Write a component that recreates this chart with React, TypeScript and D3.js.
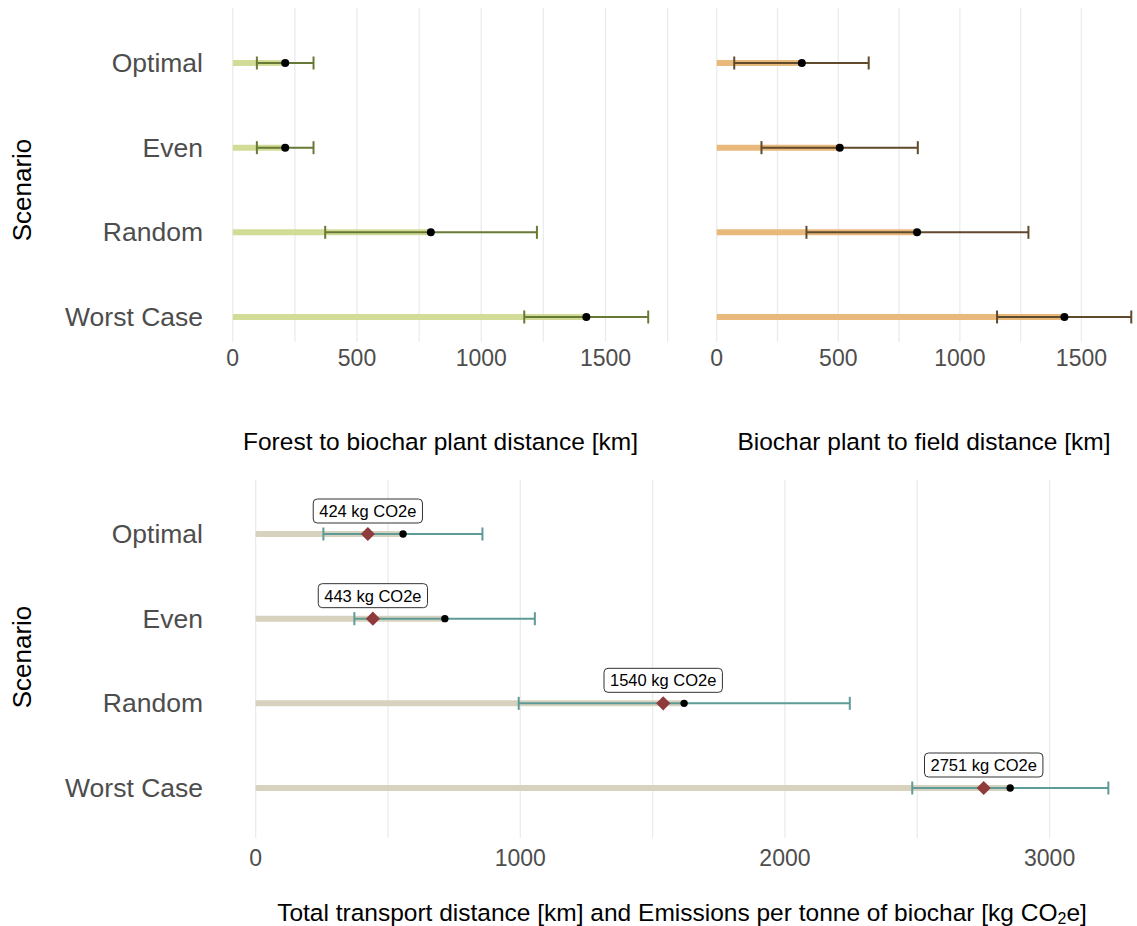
import React, { useEffect, useRef } from "react";
import * as d3 from "d3";

const scenarios = ["Optimal", "Even", "Random", "Worst Case"];

// forest -> biochar plant distance [km]
const forestLower = [97, 97, 372, 1173];
const forestMean = [211, 211, 797, 1423];
const forestUpper = [325, 325, 1224, 1672];

// biochar plant -> field distance [km]
const plantLower = [72, 184, 369, 1153];
const plantMean = [350, 506, 824, 1430];
const plantUpper = [625, 827, 1282, 1705];

// total distance [km] and emissions [kg CO2e]
const totalLower = [256, 373, 994, 2481];
const totalMean = [557, 715, 1619, 2851];
const totalUpper = [857, 1055, 2245, 3222];
const emissions = [424, 443, 1540, 2751];

const topTicks = [0, 500, 1000, 1500];
const bottomTicks = [0, 1000, 2000, 3000];

const font = "'Liberation Sans', Arial, sans-serif";

interface IPanel {
  left: number;
  right: number;
  top: number;
  bottom: number;
  yTop: number;
  yBottom: number;
  lower: number[];
  mean: number[];
  upper: number[];
  light: string;
  dark: string;
  ticks: number[];
  minorStep: number;
  tickY: number;
  title: string;
  titleY: number;
  showY: boolean;
  dotR: number;
}

export default function App() {
  const ref = useRef<SVGSVGElement>(null);

  useEffect(() => {
    const svg = d3.select(ref.current);
    svg.selectAll("*").remove();

    const drawPanel = (p: IPanel) => {
      const max = d3.max(p.upper) as number;
      const x = d3
        .scaleLinear()
        .domain([-0.05 * max, 1.05 * max])
        .range([p.left, p.right]);
      const y = d3.scalePoint<string>().domain(scenarios).range([p.yTop, p.yBottom]);
      const g = svg.append("g");

      // vertical grid lines (major + minor)
      const grid = d3.range(0, 1.05 * max + 1, p.minorStep);
      g.selectAll("line.grid")
        .data(grid)
        .join("line")
        .attr("class", "grid")
        .attr("x1", (d) => x(d))
        .attr("x2", (d) => x(d))
        .attr("y1", p.top)
        .attr("y2", p.bottom)
        .attr("stroke", "#ebebeb")
        .attr("stroke-width", 1.3);

      // tick labels
      g.selectAll("text.tick")
        .data(p.ticks)
        .join("text")
        .attr("class", "tick")
        .attr("x", (d) => x(d))
        .attr("y", p.tickY)
        .attr("text-anchor", "middle")
        .attr("dominant-baseline", "central")
        .attr("font-family", font)
        .attr("font-size", 23)
        .attr("fill", "#4d4d4d")
        .text((d) => d);

      if (p.title) {
        g.append("text")
          .attr("x", (p.left + p.right) / 2)
          .attr("y", p.titleY)
          .attr("text-anchor", "middle")
          .attr("dominant-baseline", "central")
          .attr("font-family", font)
          .attr("font-size", 24.5)
          .attr("fill", "#000")
          .text(p.title);
      }

      if (p.showY) {
        g.selectAll("text.ylab")
          .data(scenarios)
          .join("text")
          .attr("class", "ylab")
          .attr("x", 203)
          .attr("y", (d) => y(d) as number)
          .attr("text-anchor", "end")
          .attr("dominant-baseline", "central")
          .attr("font-family", font)
          .attr("font-size", 26.5)
          .attr("fill", "#4d4d4d")
          .text((d) => d);
      }

      const rows = scenarios.map((s, i) => ({
        name: s,
        lower: p.lower[i],
        mean: p.mean[i],
        upper: p.upper[i],
      }));

      // light bar from zero to mean
      g.selectAll("line.base")
        .data(rows)
        .join("line")
        .attr("class", "base")
        .attr("x1", x(0))
        .attr("x2", (d) => x(d.mean))
        .attr("y1", (d) => y(d.name) as number)
        .attr("y2", (d) => y(d.name) as number)
        .attr("stroke", p.light)
        .attr("stroke-width", 6);

      // error bars
      g.selectAll("line.err")
        .data(rows)
        .join("line")
        .attr("class", "err")
        .attr("x1", (d) => x(d.lower))
        .attr("x2", (d) => x(d.upper))
        .attr("y1", (d) => y(d.name) as number)
        .attr("y2", (d) => y(d.name) as number)
        .attr("stroke", p.dark)
        .attr("stroke-width", 2);

      const caps = rows.flatMap((d) => [
        { name: d.name, v: d.lower },
        { name: d.name, v: d.upper },
      ]);
      g.selectAll("line.cap")
        .data(caps)
        .join("line")
        .attr("class", "cap")
        .attr("x1", (d) => x(d.v))
        .attr("x2", (d) => x(d.v))
        .attr("y1", (d) => (y(d.name) as number) - 6.5)
        .attr("y2", (d) => (y(d.name) as number) + 6.5)
        .attr("stroke", p.dark)
        .attr("stroke-width", 2);

      g.selectAll("circle.mean")
        .data(rows)
        .join("circle")
        .attr("class", "mean")
        .attr("cx", (d) => x(d.mean))
        .attr("cy", (d) => y(d.name) as number)
        .attr("r", p.dotR)
        .attr("fill", "#000");

      return { g, x, y, rows };
    };

    drawPanel({
      left: 212,
      right: 669,
      top: 8,
      bottom: 342,
      yTop: 63,
      yBottom: 317,
      lower: forestLower,
      mean: forestMean,
      upper: forestUpper,
      light: "#d2dc96",
      dark: "#667a36",
      ticks: topTicks,
      minorStep: 250,
      tickY: 358,
      title: "Forest to biochar plant distance [km]",
      titleY: 441,
      showY: true,
      dotR: 4,
    });

    drawPanel({
      left: 696,
      right: 1152,
      top: 8,
      bottom: 342,
      yTop: 63,
      yBottom: 317,
      lower: plantLower,
      mean: plantMean,
      upper: plantUpper,
      light: "#e9b97b",
      dark: "#5f4a2e",
      ticks: topTicks,
      minorStep: 250,
      tickY: 358,
      title: "Biochar plant to field distance [km]",
      titleY: 441,
      showY: false,
      dotR: 4,
    });

    const bt = drawPanel({
      left: 213,
      right: 1151,
      top: 480,
      bottom: 838,
      yTop: 534,
      yBottom: 788,
      lower: totalLower,
      mean: totalMean,
      upper: totalUpper,
      light: "#d6d2bd",
      dark: "#5e9a97",
      ticks: bottomTicks,
      minorStep: 500,
      tickY: 858,
      title: "",
      titleY: 912,
      showY: true,
      dotR: 3.7,
    });

    const em = scenarios.map((s, i) => ({ name: s, value: emissions[i] }));
    bt.g
      .selectAll("path.diamond")
      .data(em)
      .join("path")
      .attr("class", "diamond")
      .attr("d", d3.symbol(d3.symbolSquare, 100)())
      .attr(
        "transform",
        (d) => `translate(${bt.x(d.value)},${bt.y(d.name)}) rotate(45)`,
      )
      .attr("fill", "#8f3b3b");

    // emission labels
    const labels = bt.g
      .selectAll("g.lab")
      .data(em)
      .join("g")
      .attr("class", "lab")
      .attr(
        "transform",
        (d) => `translate(${bt.x(d.value)},${(bt.y(d.name) as number) - 23})`,
      );
    labels
      .append("text")
      .attr("text-anchor", "middle")
      .attr("dominant-baseline", "central")
      .attr("font-family", font)
      .attr("font-size", 16.5)
      .attr("fill", "#000")
      .text((d) => `${d.value} kg CO2e`);
    labels.each(function () {
      const grp = d3.select(this);
      const t = grp.select("text").node() as SVGTextElement;
      const w = t.getComputedTextLength();
      grp
        .insert("rect", "text")
        .attr("x", -w / 2 - 6)
        .attr("y", -12)
        .attr("width", w + 12)
        .attr("height", 24)
        .attr("rx", 4)
        .attr("fill", "#fff")
        .attr("stroke", "#333")
        .attr("stroke-width", 1);
    });

    // bottom axis title with subscript
    const bTitle = svg
      .append("text")
      .attr("x", (213 + 1151) / 2)
      .attr("y", 912)
      .attr("text-anchor", "middle")
      .attr("dominant-baseline", "central")
      .attr("font-family", font)
      .attr("font-size", 24.5)
      .attr("fill", "#000");
    bTitle
      .append("tspan")
      .text(
        "Total transport distance [km] and Emissions per tonne of biochar [kg CO",
      );
    bTitle
      .append("tspan")
      .attr("font-size", 16)
      .attr("dy", 6)
      .text("2");
    bTitle.append("tspan").attr("dy", -6).text("e]");

    // "Scenario" labels
    [190, 657].forEach((cy) => {
      svg
        .append("text")
        .attr("transform", `translate(22,${cy}) rotate(-90)`)
        .attr("text-anchor", "middle")
        .attr("dominant-baseline", "central")
        .attr("font-family", font)
        .attr("font-size", 26)
        .attr("fill", "#000")
        .text("Scenario");
    });
  }, []);

  return (
    <svg
      ref={ref}
      width={1137}
      height={926}
      style={{ position: "absolute", left: 0, top: 0, background: "#fff" }}
    />
  );
}
